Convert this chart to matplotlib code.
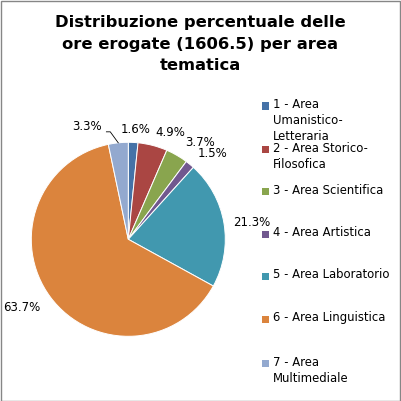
import matplotlib
matplotlib.use("Agg")
import matplotlib.pyplot as plt
import numpy as np
from matplotlib.patches import Rectangle

categories = ["1 - Area\nUmanistico-\nLetteraria", "2 - Area Storico-\nFilosofica",
              "3 - Area Scientifica", "4 - Area Artistica", "5 - Area Laboratorio",
              "6 - Area Linguistica", "7 - Area\nMultimediale"]
values = [1.6, 4.9, 3.7, 1.5, 21.3, 63.7, 3.3]
pct_labels = ["1.6%", "4.9%", "3.7%", "1.5%", "21.3%", "63.7%", "3.3%"]
colors = ["#4572A7", "#AA4643", "#89A54E", "#71588F", "#4198AF", "#DB843D", "#93A9CF"]

# label positions (data units, radius = 1)
label_pos = [(0.079, 1.137), (0.43, 1.106), (0.739, 0.998), (0.873, 0.885),
             (1.275, 0.178), (-1.096, -0.698), (-0.426, 1.158)]

W = H = 401
fig = plt.figure(figsize=(W / 100, H / 100), dpi=100)
fig.patch.set_facecolor("white")

cx, cy, r = 128.3, 239.3, 97
ax = fig.add_axes([(cx - r) / W, (H - cy - r) / H, 2 * r / W, 2 * r / H])

wedges, _ = ax.pie(values, colors=colors, startangle=90, counterclock=False, radius=1,
                   wedgeprops=dict(edgecolor="white", linewidth=0.7))
ax.set_xlim(-1, 1)
ax.set_ylim(-1, 1)
ax.set_aspect("equal")
ax.axis("off")
for w in wedges:
    w.set_clip_on(False)

for (x, y), t in zip(label_pos, pct_labels):
    ax.text(x, y, t, ha="center", va="center", fontsize=8.5, color="#000000",
            family="DejaVu Sans", clip_on=False)

# leader line for last slice
cum = np.cumsum([0] + values)
mid = 90 - 360 * (cum[-2] + values[-1] / 2) / 100
ex, ey = np.cos(np.radians(mid)), np.sin(np.radians(mid))
lx, ly = label_pos[-1]
ax.plot([lx + 0.2, lx + 0.2 + 0.04, ex], [ly - 0.05, ly - 0.05, ey], color="#000000",
        linewidth=0.6, clip_on=False)

fig.text(200.5 / W, 1 - 15 / H, "Distribuzione percentuale delle\nore erogate (1606.5) per area\ntematica",
         ha="center", va="top", fontsize=11.8, fontweight="bold", linespacing=1.55,
         family="DejaVu Sans")

# legend
leg_y = [106, 149, 191, 234, 276, 319, 363]
for yy, c, lab in zip(leg_y, colors, categories):
    fig.patches.append(Rectangle(((262) / W, 1 - (yy + 3.5) / H), 7 / W, 7 / H,
                                 transform=fig.transFigure, facecolor=c, edgecolor="none"))
    fig.text(273 / W, 1 - (yy - 7.5) / H, lab, ha="left", va="top", fontsize=8.4,
             linespacing=1.3, family="DejaVu Sans", color="#000000")

fig.patches.append(Rectangle((0.5 / W, 0.5 / H), 1 - 1.5 / W, 1 - 1.5 / H, transform=fig.transFigure,
                             facecolor="none", edgecolor="#868686", linewidth=1.0))

fig.savefig("out.png", dpi=100, facecolor="white")
